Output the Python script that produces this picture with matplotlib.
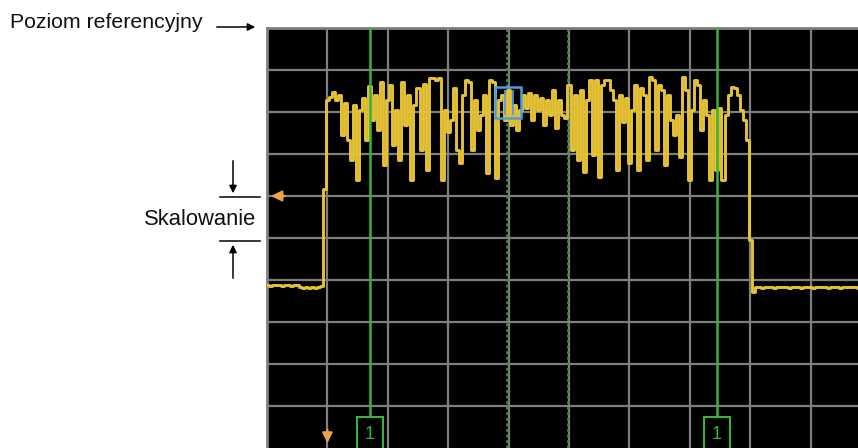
import numpy as np
import matplotlib
matplotlib.use("Agg")
import matplotlib.pyplot as plt
from matplotlib.patches import Rectangle, FancyArrowPatch
from matplotlib.lines import Line2D

# Display settings (10 divisions each way)
ref_level_db = 0.0
db_per_div = 10.0
n_div = 10
visible_span_div = 9.785

# Swept trace, one sample every 0.05 division
baseline_left = [-61.2, -61.4, -61.2, -61.3, -61.2, -61.4, -61.3, -61.2, -61.4, -61.3,
                 -61.2, -61.6, -61.8, -61.7, -61.8, -61.6, -61.8, -61.7, -61.5, -38.4]
channel = [-17.1, -16.4, -15.2, -17.1, -16.0, -25.5, -17.9, -26.7, -31.4, -18.3,
           -36.2, -19.5, -16.7, -26.7, -13.8, -21.9, -16.0, -24.3, -12.9, -32.6,
           -17.1, -13.6, -27.9, -19.5, -31.4, -12.9, -23.1, -16.0, -36.2, -18.3,
           -14.3, -29.0, -13.3, -33.8, -11.9, -11.9, -12.4, -11.9, -36.2, -19.5,
           -24.8, -21.9, -14.3, -29.0, -32.1, -16.0, -12.4, -12.9, -29.0, -17.1,
           -24.3, -20.7, -16.0, -34.5, -12.4, -12.9, -35.7, -17.1, -16.0, -21.9,
           -14.8, -23.1, -18.3, -24.3, -19.5, -16.0, -19.0, -15.5, -21.9, -16.0,
           -19.5, -16.7, -23.1, -17.1, -20.7, -14.8, -23.8, -17.1, -20.7, -21.4,
           -13.6, -29.0, -16.0, -31.4, -14.8, -34.3, -17.1, -12.4, -30.2, -12.4,
           -35.5, -13.6, -12.4, -12.4, -14.8, -17.1, -33.8, -16.0, -22.4, -16.7,
           -32.1, -19.5, -13.6, -33.8, -14.3, -16.0, -31.4, -11.7, -12.4, -29.0,
           -13.6, -14.8, -32.6, -16.0, -21.9, -25.5, -20.7, -30.7, -11.7, -14.8,
           -36.2, -19.5, -12.4, -13.6, -24.3, -17.1, -20.7, -36.2, -19.5, -33.8,
           -19.0, -36.2, -20.7, -16.0, -14.0, -14.3, -16.0, -19.5, -21.9, -26.7]
falling_edge = [-50.5, -62.9]
baseline_right = [-61.7, -61.6, -61.8, -61.7, -61.6, -61.7, -61.8, -61.6, -61.7, -61.7,
                  -61.6, -61.8, -61.7, -61.6, -61.7, -61.9, -61.7, -61.6, -61.7, -61.8,
                  -61.6, -61.7, -61.7, -61.6, -61.8, -61.7, -61.6, -61.7, -61.8, -61.7,
                  -61.6, -61.7, -61.7, -61.6, -61.8, -61.7, -61.6, -61.7, -61.7]
trace_db = np.array(baseline_left + channel + falling_edge + baseline_right)
trace_x = np.linspace(0, n_div, len(trace_db))

# Markers and lines on screen (division units)
marker_x = [1.705, 7.45]
marker_labels = ["1", "1"]
dotted_x = [3.97, 4.98]
active_marker = (3.99, -17.7)
scale_arrow_db = -40.0
sweep_start_div = 1.0

YELLOW = "#e6c236"
GRID = "#7f7f7f"
GREEN = "#38b43a"
DARK_GREEN = "#3f8a45"
ORANGE = "#e8a448"
BLUE = "#4a9ee0"

plt.rcParams["font.family"] = ["Liberation Sans", "DejaVu Sans"]
fig = plt.figure(figsize=(8.58, 4.48), dpi=100)
fig.patch.set_facecolor("white")

ax = fig.add_axes([267 / 858, 0, 591 / 858, 420 / 448])
ax.set_facecolor("black")
ax.set_xlim(0, visible_span_div)
ax.set_ylim(ref_level_db - n_div * db_per_div, ref_level_db)
ax.set_xticks(np.arange(1, n_div))
ax.set_yticks(np.arange(ref_level_db - (n_div - 1) * db_per_div, ref_level_db, db_per_div))
ax.tick_params(length=0, labelbottom=False, labelleft=False)
ax.grid(True, color=GRID, linewidth=1.6)
ax.set_axisbelow(True)
for side in ("bottom", "right"):
    ax.spines[side].set_visible(False)
for side in ("top", "left"):
    ax.spines[side].set_color(GRID)
    ax.spines[side].set_linewidth(2.0)

# Dotted band lines
for xd in dotted_x:
    ax.axvline(xd, color=DARK_GREEN, linewidth=2.0, linestyle=(0, (1, 1)), zorder=2)

# Trace
ax.plot(trace_x, trace_db, color=YELLOW, linewidth=2.1, drawstyle="steps-mid", zorder=3)

# Solid marker lines with labelled boxes
box_w = 0.42
for xm, lab in zip(marker_x, marker_labels):
    ax.plot([xm, xm], [0, -92.6], color=GREEN, linewidth=1.8, zorder=4)
    ax.add_patch(Rectangle((xm - box_w / 2, -101), box_w, 8.4, facecolor="black",
                           edgecolor=GREEN, linewidth=1.5, zorder=5))
    ax.text(xm, -96.8, lab, color=GREEN, fontsize=13, ha="center", va="center", zorder=6)

# Active marker box
ax.add_patch(Rectangle((active_marker[0] - 0.22, active_marker[1] - 3.7), 0.44, 7.4,
                       facecolor="none", edgecolor=BLUE, linewidth=1.8, zorder=6))
for dx in (-0.05, 0.08):
    ax.plot([active_marker[0] + dx] * 2, [active_marker[1] - 2.8, active_marker[1] + 2.6],
            color=BLUE, linewidth=1.3, zorder=6)

# Reference / scale indicators in orange
ax.annotate("", xy=(0.02, scale_arrow_db), xytext=(0.34, scale_arrow_db),
            arrowprops=dict(arrowstyle="-|>", color=ORANGE, lw=1.6, mutation_scale=16),
            zorder=7)
ax.annotate("", xy=(sweep_start_div, -99.5), xytext=(sweep_start_div, -95.0),
            arrowprops=dict(arrowstyle="-|>", color=ORANGE, lw=1.6, mutation_scale=15),
            zorder=7, annotation_clip=False)


def fy(py):
    return 1 - py / 448


def fx(px):
    return px / 858


# Annotations outside the screen
fig.text(fx(10), fy(22), "Poziom referencyjny", fontsize=15.3, ha="left", va="center",
         color="#111111")
fig.add_artist(FancyArrowPatch((fx(214), fy(27)), (fx(258), fy(27)),
               transform=fig.transFigure, arrowstyle="-|>", mutation_scale=11,
               color="black", lw=1.1))

fig.text(fx(256), fy(219), "Skalowanie", fontsize=15.8, ha="right", va="center",
         color="#111111")
fig.add_artist(Line2D([fx(220), fx(260)], [fy(197), fy(197)],
               transform=fig.transFigure, color="black", lw=1.1))
fig.add_artist(Line2D([fx(220), fx(260)], [fy(241), fy(241)],
               transform=fig.transFigure, color="black", lw=1.1))
fig.add_artist(FancyArrowPatch((fx(233), fy(158)), (fx(233), fy(196)),
               transform=fig.transFigure, arrowstyle="-|>", mutation_scale=11,
               color="black", lw=1.1))
fig.add_artist(FancyArrowPatch((fx(233), fy(281)), (fx(233), fy(242)),
               transform=fig.transFigure, arrowstyle="-|>", mutation_scale=11,
               color="black", lw=1.1))

fig.savefig("out.png", dpi=100, facecolor=fig.get_facecolor())
